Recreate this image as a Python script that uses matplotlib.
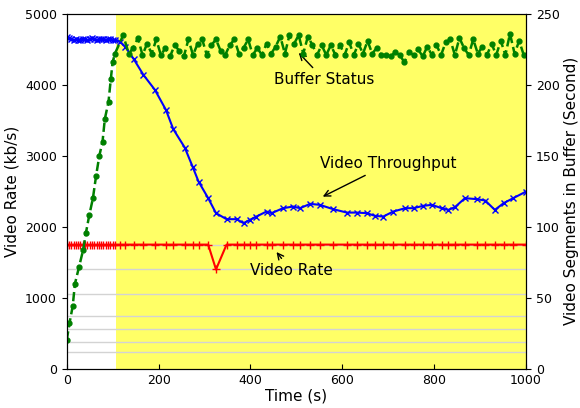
import matplotlib
matplotlib.use('Agg')
from matplotlib import pyplot as plt

# per-segment times (s): dense start-up phase, then steady download
seg_t = [0, 5, 10, 15, 20, 25, 30, 35, 40, 45, 50, 55, 60, 65, 70, 75, 80, 85, 90, 95, 100, 105,
         116, 127, 146, 167, 192, 216, 232, 257, 274, 287, 308, 325, 348, 370, 385, 399,
         413, 435, 446, 471, 493, 508, 530, 551, 580, 610, 631, 653, 671, 689, 711, 737,
         755, 776, 795, 816, 831, 845, 867, 893, 911, 932, 951, 972, 1000]

throughput = [4680, 4660, 4645, 4630, 4640, 4625, 4635, 4650, 4640, 4630, 4645, 4655, 4640, 4630,
              4645, 4650, 4640, 4635, 4645, 4640, 4635, 4630,
              4610, 4540, 4362, 4141, 3930, 3648, 3376, 3117, 2849, 2638, 2404, 2193, 2108, 2108,
              2052, 2099, 2145, 2216, 2193, 2263, 2286, 2263, 2324, 2310, 2249, 2201, 2201, 2193,
              2155, 2145, 2216, 2263, 2263, 2296, 2310, 2263, 2239, 2277, 2404, 2390, 2371, 2239,
              2333, 2404, 2497]

video_rate = [1750] * 22 + [1750] * 11 + [1400] + [1750] * 33

# buffer level (segments), ramp then steady state
buf_t = [0, 6, 13, 18, 27, 36, 42, 49, 57, 64, 71, 78, 83, 91, 96, 100, 105,
         123, 135, 145, 155, 165, 175, 185, 195, 205, 215, 225, 235, 245, 255, 265, 275, 285,
         295, 305, 315, 325, 335, 345, 355, 365, 375, 385, 395, 405, 415, 425, 435, 445, 455,
         465, 475, 485, 495, 505, 515, 525, 535, 545, 555, 565, 575, 585, 595, 605, 615, 625,
         635, 645, 655, 665, 675, 685, 695, 705, 715, 725, 735, 745, 755, 765, 775, 785, 795,
         805, 815, 825, 835, 845, 855, 865, 875, 885, 895, 905, 915, 925, 935, 945, 955, 965,
         975, 985, 995]
buf_level = [20, 32, 44, 60, 72, 84, 96, 108, 120, 136, 150, 160, 176, 188, 204, 216, 222,
             235, 222, 226, 233, 221, 229, 222, 232, 221, 226, 220, 228, 224, 220, 232, 221, 229,
             232, 221, 228, 232, 224, 221, 228, 232, 222, 226, 232, 221, 226, 221, 229, 222, 227,
             234, 222, 235, 229, 235, 222, 234, 228, 221, 228, 221, 228, 221, 228, 221, 230, 221,
             229, 222, 231, 222, 226, 221, 221, 220, 223, 221, 216, 223, 221, 225, 220, 227, 221,
             228, 221, 230, 232, 221, 233, 226, 221, 232, 222, 227, 221, 229, 221, 231, 221, 236,
             222, 231, 221]

bitrate_levels = [235, 375, 560, 750, 1050, 1400, 1750]
steady_start = 108

fig, ax = plt.subplots(figsize=(5.8, 4.08), dpi=100)
fig.subplots_adjust(left=0.115, right=0.907, top=0.966, bottom=0.096)

ax.axvspan(steady_start, 1000, color='yellow', alpha=0.6, lw=0)
for b in bitrate_levels:
    ax.axhline(b, color='lightgrey', lw=1, zorder=1)

ax.plot(seg_t, video_rate, color='red', lw=1.5, marker='+', ms=6, mew=1, zorder=3)
ax.plot(seg_t, throughput, color='blue', lw=1.5, marker='x', ms=4.5, mew=1, zorder=3)

ax.set_xlim(0, 1000)
ax.set_ylim(0, 5000)
ax.set_xlabel('Time (s)', fontsize=11, labelpad=1)
ax.set_ylabel('Video Rate (kb/s)', fontsize=11)
ax.tick_params(labelsize=9)
ax.tick_params(axis='x', direction='in')

ax2 = ax.twinx()
ax2.plot(buf_t, buf_level, color='green', lw=1.8, ls='--', marker='.', ms=7)
ax2.set_ylim(0, 250)
ax2.set_ylabel('Video Segments in Buffer (Second)', fontsize=11, labelpad=3)
ax2.tick_params(labelsize=9)

ax.annotate('Buffer Status', xy=(501, 4479), xytext=(561, 4070), ha='center', va='center',
            fontsize=11, arrowprops=dict(arrowstyle='->', color='black', lw=1), zorder=5)
ax.annotate('Video Throughput', xy=(552, 2408), xytext=(700, 2887), ha='center', va='center',
            fontsize=11, arrowprops=dict(arrowstyle='->', color='black', lw=1), zorder=5)
ax.annotate('Video Rate', xy=(453, 1676), xytext=(489, 1380), ha='center', va='center',
            fontsize=11, arrowprops=dict(arrowstyle='->', color='black', lw=1), zorder=5)

plt.savefig('out.png', dpi=100)
